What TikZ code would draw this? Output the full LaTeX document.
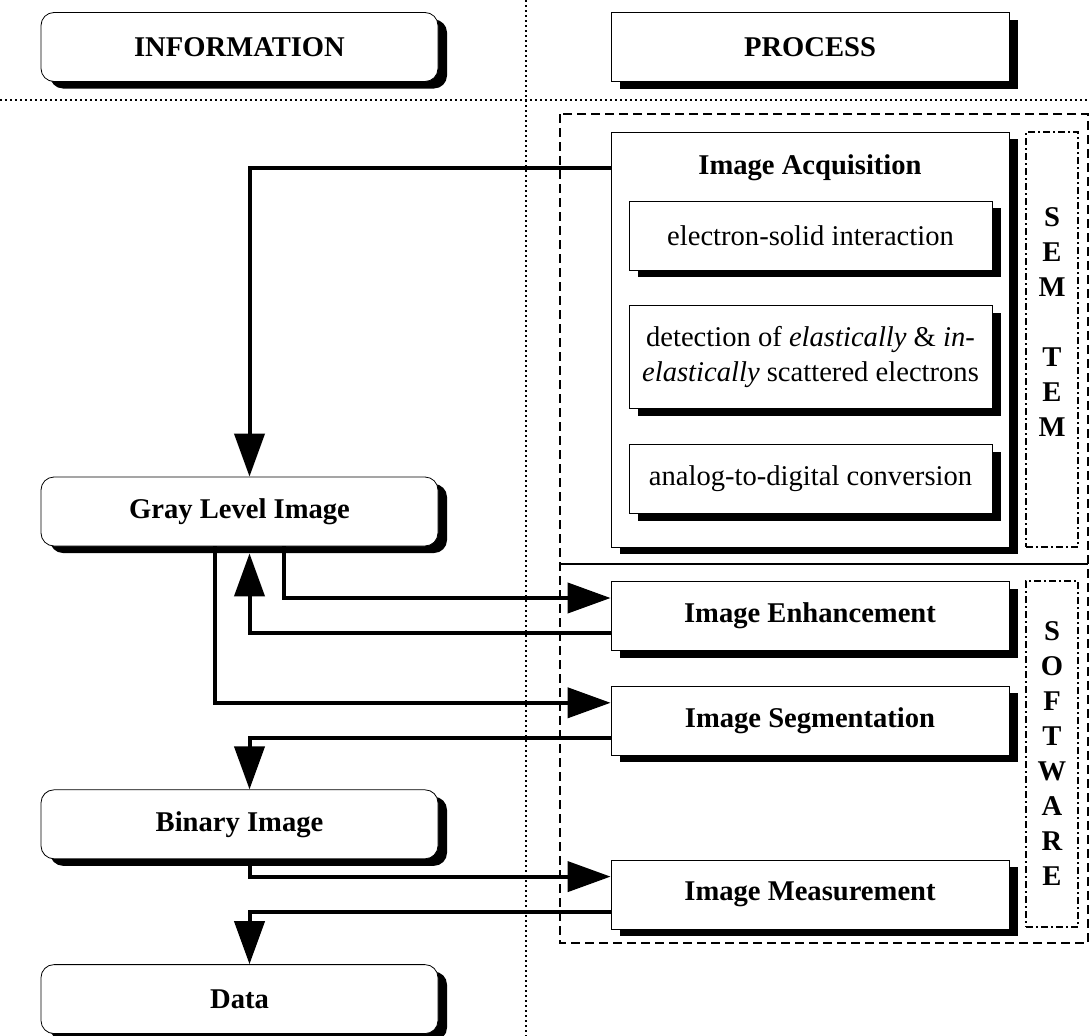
\documentclass[tikz,border=0pt]{standalone}
\usepackage{fontspec}
\setmainfont{Liberation Serif}
\usetikzlibrary{positioning,shadows,arrows.meta}

\begin{document}
\begin{tikzpicture}[x=1pt,y=-1pt,auto,
	boxshadow/.style={drop shadow={shadow xshift=9pt,shadow yshift=-7pt,fill=black,opacity=1}},
	infobox/.style={draw,fill=white,line width=0.8pt,rounded corners=13pt,minimum width=397pt,minimum height=69pt,font=\bfseries,boxshadow},
	procbox/.style={draw,fill=white,line width=0.8pt,minimum width=398pt,minimum height=69pt,font=\bfseries,boxshadow},
	subbox/.style={draw,fill=white,line width=0.8pt,minimum width=363pt,minimum height=69pt,align=center,boxshadow},
	sidebox/.style={draw,line width=1.2pt,dash pattern=on 7pt off 3pt on 2pt off 3pt,minimum width=52pt,align=center,font=\bfseries},
	dotline/.style={line width=1.5pt,dash pattern=on 2pt off 3pt},
	dashline/.style={line width=1.5pt,dash pattern=on 9pt off 5pt},
	flow/.style={line width=4pt,-{Triangle[length=43pt,width=30pt]}}]
			\fontsize{28.6}{35}\selectfont
			\useasboundingbox (0,0) rectangle (1090,1036);
			\draw[dotline] (0,100) -- (1090,100);
			\draw[dotline] (526,0) -- (526,1036);
			\draw[dashline] (560,114) rectangle (1088,943);
			\draw[line width=1.5pt] (560,564) -- (1088,564);
			\node[infobox] (Info) at (239.5,47) {INFORMATION};
			\node[procbox] (Proc) at (810,47) {PROCESS};
			\node[procbox,minimum height=415pt] (Acq) at (810,339.5) {};
			\node (AcqTitle) at (810,168) {\bfseries Image Acquisition};
			\node[subbox] (esi) at (810.5,235.5) {electron-solid interaction};
			\node[subbox,minimum height=103pt,below=35pt of esi] (det) {detection of \textit{elastically} \& \textit{in-}\\\textit{elastically} scattered electrons};
			\node[subbox,below=35pt of det] (adc) {analog-to-digital conversion};
			\node[sidebox,minimum height=415pt] (SemTem) at (1052,339.5) {S\\E\\M\\~\\T\\E\\M\\~};
			\node[procbox] (Enh) at (810,616) {Image Enhancement};
			\node[procbox,below=35pt of Enh] (Seg) {Image Segmentation};
			\node[procbox,below=104pt of Seg] (Meas) {Image Measurement};
			\node[sidebox,minimum height=346pt] (Soft) at (1052,754) {S\\O\\F\\T\\W\\A\\R\\E};
			\node[infobox] (Gray) at (239.5,511.5) {Gray Level Image};
			\node[infobox,below=243pt of Gray] (Binary) {Binary Image};
			\node[infobox,below=105pt of Binary] (Data) {Data};
			\draw[flow] (AcqTitle -| Acq.west) -| ([xshift=10pt]Gray.north);
			\draw[flow] ([xshift=44pt]Gray.south) |- ([yshift=18pt]Enh.west);
			\draw[flow] ([yshift=-17pt]Enh.west) -| ([xshift=10pt,yshift=-7pt]Gray.south);
			\draw[flow] ([xshift=-25pt]Gray.south) |- ([yshift=18pt]Seg.west);
			\draw[flow] ([yshift=-17pt]Seg.west) -| ([xshift=10pt]Binary.north);
			\draw[flow] ([xshift=10pt]Binary.south) |- ([yshift=18pt]Meas.west);
			\draw[flow] ([yshift=-17pt]Meas.west) -| ([xshift=10pt]Data.north);
\end{tikzpicture}
\end{document}
